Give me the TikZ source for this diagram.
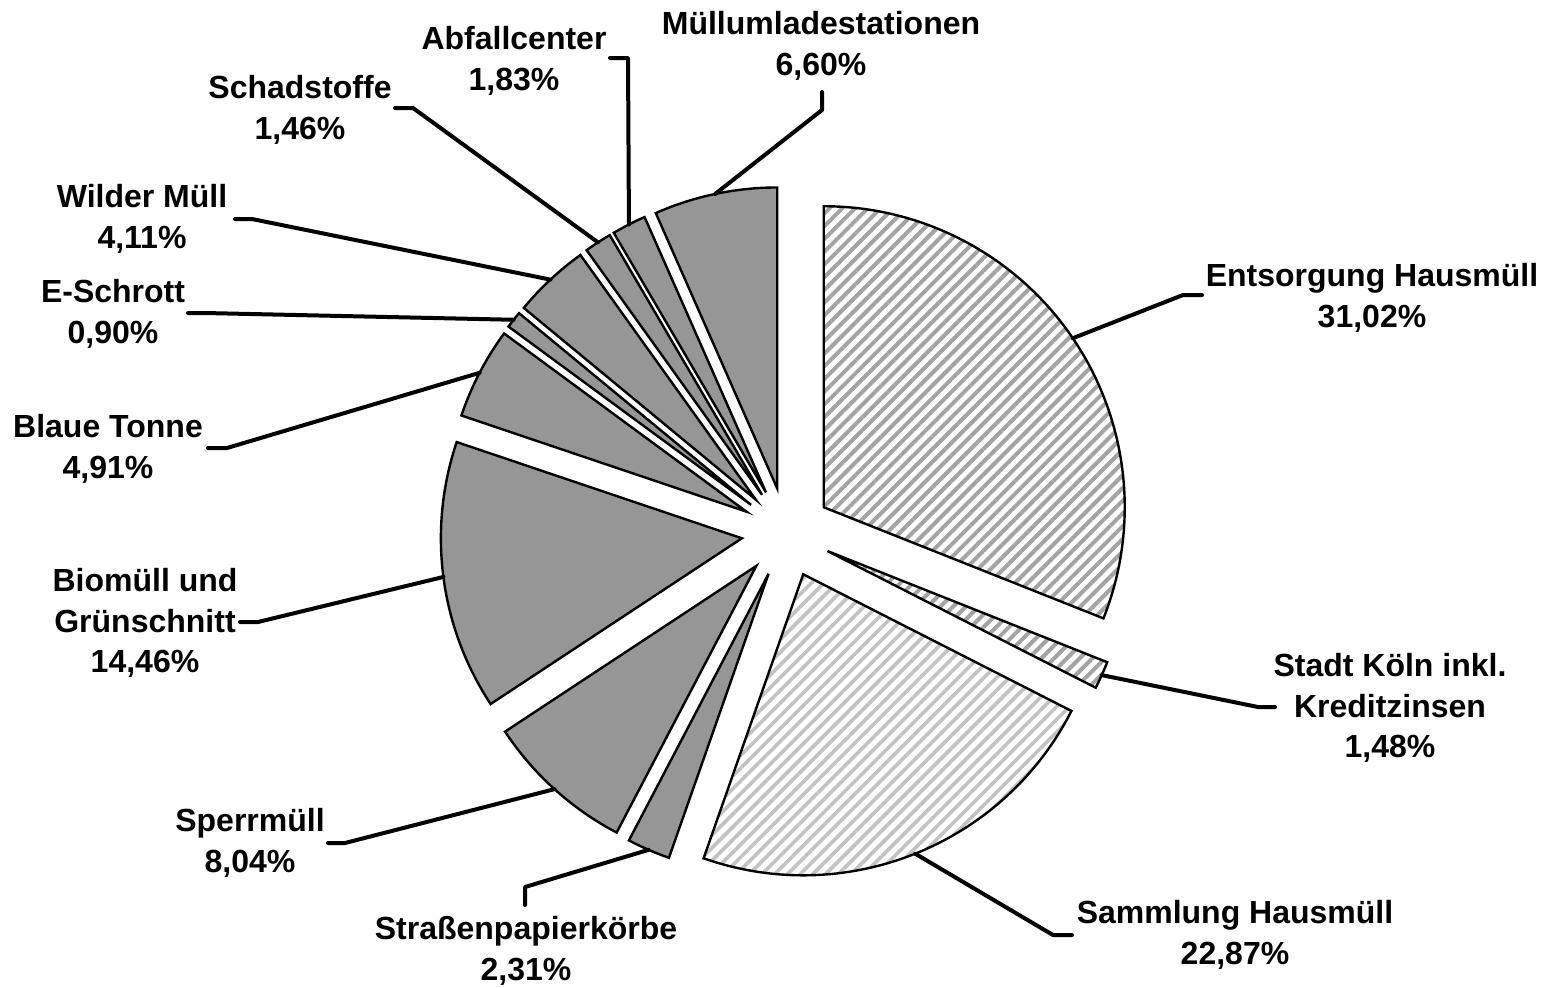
\documentclass[tikz,border=0pt]{standalone}
\usepackage{fontspec}
\setmainfont{Liberation Sans}
\usetikzlibrary{patterns.meta,calc}
\definecolor{slicegray}{RGB}{150,150,150}
\newcommand\pieslice[4]{% #1 name, #2 start angle, #3 end angle, #4 style
  \path (C) ++({(#2+#3)/2}:45) coordinate (#1-apex);
  \path (C) ++({(#2+#3)/2}:346) coordinate (#1-out);
  \draw[#4] (#1-apex) -- ++(#2:301) arc[start angle=#2, end angle=#3, radius=301] -- cycle;
}
\begin{document}
\begin{tikzpicture}[x=0.5pt,y=-0.5pt,
  lbl/.style={font=\bfseries\fontsize{16}{20.3}\selectfont, align=center, inner sep=0pt},
  slice/.style={draw=black, line width=1.2pt, line join=miter},
  solidgray/.style={slice, fill=slicegray},
  hatchA/.style={slice, pattern={Lines[angle=45,distance=4.5pt,line width=2.0pt]}, pattern color=black!36},
  hatchB/.style={slice, pattern={Lines[angle=45,distance=4.5pt,line width=1.8pt]}, pattern color=black!24},
  leader/.style={draw=black, line width=2pt, line cap=round, line join=round}]
\fill[white] (0,0) rectangle (1542,987);
\useasboundingbox (0,0) rectangle (1542,987);
\coordinate (C) at (786.5,532.5);

\pieslice{ents}{-90}{21.672}{hatchA}
\pieslice{stadt}{21.672}{27.0}{hatchA}
\pieslice{samm}{27.0}{109.332}{hatchB}
\pieslice{stras}{109.332}{117.648}{solidgray}
\pieslice{sperr}{117.648}{146.592}{solidgray}
\pieslice{bio}{146.592}{198.648}{solidgray}
\pieslice{blau}{198.648}{216.324}{solidgray}
\pieslice{eschr}{216.324}{219.564}{solidgray}
\pieslice{wild}{219.564}{234.36}{solidgray}
\pieslice{schad}{234.36}{239.616}{solidgray}
\pieslice{abf}{239.616}{246.204}{solidgray}
\pieslice{muell}{246.204}{270}{solidgray}

% labels
\node[lbl] (lents)  at (1372,298) {Entsorgung Hausmüll\\31,02\%};
\node[lbl] (lstadt) at (1390,708) {Stadt Köln inkl.\\Kreditzinsen\\1,48\%};
\node[lbl] (lsamm)  at (1235,935) {Sammlung Hausmüll\\22,87\%};
\node[lbl] (lstras) at (526,951) {Straßenpapierkörbe\\2,31\%};
\node[lbl] (lsperr) at (250,843) {Sperrmüll\\8,04\%};
\node[lbl] (lbio)   at (145,623) {Biomüll und\\Grünschnitt\\14,46\%};
\node[lbl] (lblau)  at (108,449) {Blaue Tonne\\4,91\%};
\node[lbl] (leschr) at (113,314) {E-Schrott\\0,90\%};
\node[lbl] (lwild)  at (142,219) {Wilder Müll\\4,11\%};
\node[lbl] (lschad) at (300,110) {Schadstoffe\\1,46\%};
\node[lbl] (labf)   at (514,61)  {Abfallcenter\\1,83\%};
\node[lbl] (lmuell) at (821,46)  {Müllumladestationen\\6,60\%};

% leader bends and ends
\coordinate (ents-b) at (1183,295);  \coordinate (ents-e) at (1202,295);
\coordinate (stadt-b) at (1258,707); \coordinate (stadt-e) at (1275,707);
\coordinate (samm-b) at (1053,935);  \coordinate (samm-e) at (1072,935);
\coordinate (stras-b) at (525,887);  \coordinate (stras-e) at (525,905);
\coordinate (sperr-b) at (345,843);  \coordinate (sperr-e) at (328,843);
\coordinate (bio-b) at (258,622);    \coordinate (bio-e) at (240,622);
\coordinate (blau-b) at (227,448);   \coordinate (blau-e) at (208,448);
\coordinate (eschr-b) at (205,313);  \coordinate (eschr-e) at (188,313);
\coordinate (wild-b) at (252,219);   \coordinate (wild-e) at (235,219);
\coordinate (schad-b) at (413,108);  \coordinate (schad-e) at (395,108);
\coordinate (abf-b) at (628,58);     \coordinate (abf-e) at (610,58);
\coordinate (muell-b) at (822,110);  \coordinate (muell-e) at (822,92);

\foreach \n in {ents,stadt,samm,stras,sperr,bio,blau,eschr,wild,schad,abf,muell}
  \draw[leader] (\n-out) -- (\n-b) -- (\n-e);
\end{tikzpicture}
\end{document}
